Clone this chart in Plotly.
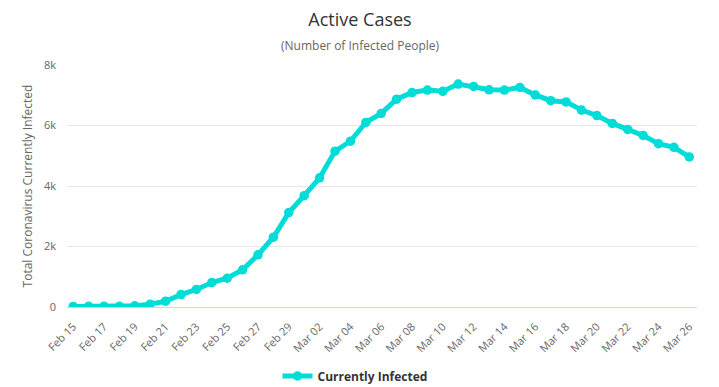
import plotly.graph_objects as go

dates = ["Feb 15", "Feb 16", "Feb 17", "Feb 18", "Feb 19", "Feb 20", "Feb 21", "Feb 22",
         "Feb 23", "Feb 24", "Feb 25", "Feb 26", "Feb 27", "Feb 28", "Feb 29",
         "Mar 01", "Mar 02", "Mar 03", "Mar 04", "Mar 05", "Mar 06", "Mar 07", "Mar 08",
         "Mar 09", "Mar 10", "Mar 11", "Mar 12", "Mar 13", "Mar 14", "Mar 15", "Mar 16",
         "Mar 17", "Mar 18", "Mar 19", "Mar 20", "Mar 21", "Mar 22", "Mar 23", "Mar 24",
         "Mar 25", "Mar 26"]
active = [19, 22, 21, 22, 40, 95, 191, 411, 580, 807, 950, 1230, 1725, 2307, 3120,
          3680, 4270, 5150, 5480, 6100, 6400, 6870, 7090, 7170, 7130, 7370, 7290,
          7180, 7170, 7260, 7010, 6820, 6780, 6510, 6330, 6070, 5870, 5670, 5400,
          5280, 4960]
tick_labels = dates[::2]
y_ticks = [0, 2000, 4000, 6000, 8000]
y_tick_text = ["0", "2k", "4k", "6k", "8k"]

FONT = "Open Sans, Lato, sans-serif"
COLOR = "#00dcd7"

W, H = 711, 379  # page has an 8px body margin
L, R, T, B = 59, 22, 57, 80
PW, PH = W - L - R, H - T - B

fig = go.Figure()
fig.add_trace(go.Scatter(
    x=dates, y=active, mode="lines+markers", name="<b>Currently Infected</b>",
    line=dict(color=COLOR, width=5),
    marker=dict(color=COLOR, size=9.5),
))

fig.update_layout(
    width=W, height=H,
    margin=dict(l=L, r=R, t=T, b=B),
    paper_bgcolor="white", plot_bgcolor="white",
    font=dict(family=FONT, color="#666666", size=11),
    title=dict(text="Active Cases", x=352 / W, xanchor="center", xref="container",
               y=1 - 12 / H, yanchor="middle", yref="container",
               font=dict(size=18, color="#333333", family=FONT)),
    showlegend=True,
    legend=dict(orientation="h", x=347 / W, xanchor="center", xref="container",
                y=1 - 368 / H, yanchor="middle", yref="container",
                font=dict(size=12, color="#333333", family=FONT),
                itemwidth=30),
    xaxis=dict(type="category", range=[-0.4, 40.5], tickmode="array",
               tickvals=tick_labels, ticktext=tick_labels, tickangle=-45,
               showgrid=False, showline=True, linecolor="#ccd6eb", linewidth=1,
               ticks="", tickfont=dict(size=11, color="#666666"), zeroline=False,
               ticklabelstandoff=8, automargin=False),
    yaxis=dict(range=[0, 8000], tickvals=y_ticks, ticktext=y_tick_text,
               showgrid=True, gridcolor="#e6e6e6", zeroline=False, showline=False,
               tickfont=dict(size=11, color="#666666"), ticks="", ticklabelstandoff=10,
               automargin=False,
               title=dict(text="Total Coronavirus Currently Infected", standoff=8,
                          font=dict(size=12, color="#666666"))),
    annotations=[dict(text="(Number of Infected People)", xref="paper", yref="paper",
                      x=(352 - L) / PW, y=(H - B - 37) / PH, xanchor="center",
                      yanchor="middle", showarrow=False,
                      font=dict(size=12, color="#666666", family=FONT))],
)

fig.write_html("out.html")
